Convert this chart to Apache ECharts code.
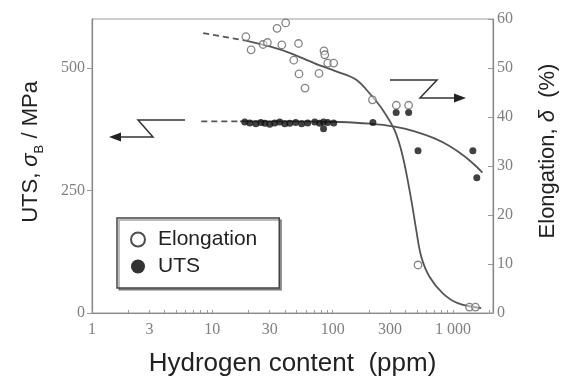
<!DOCTYPE html>
<html>
<head>
<meta charset="utf-8">
<script src="https://cdn.jsdelivr.net/npm/echarts@6/dist/echarts.min.js"></script>
<style>
  html, body { margin: 0; padding: 0; background: #fff; }
  #chart { width: 567px; height: 378px; }
</style>
</head>
<body>
<div id="chart"></div>
<script>
// Hydrogen content axis (ppm, logarithmic)
const ppmLabelValues = [1, 3, 10, 30, 100, 300, 1000];
const ppmLabelTexts = ['1', '3', '10', '30', '100', '300', '1 000'];
const ppmMinorTicks = [1, 2, 3, 4, 5, 6, 7, 8, 9, 10, 20, 30, 40, 50, 60, 70, 80, 90,
  100, 200, 300, 400, 500, 600, 700, 800, 900, 1000, 2000];

// Left axis (UTS, MPa) and right axis (elongation, %)
const utsTickValues = [0, 250, 500];
const elongTickValues = [0, 10, 20, 30, 40, 50, 60];

// Measured elongation (open circles)
const elongPpm = [19, 21, 26.4, 28.7, 34.5, 40.7, 37.8, 52, 47.5, 52.5, 58.9, 77, 84.7, 86, 91, 102,
  214, 338, 428, 512, 1371, 1537];
const elongPct = [56.4, 53.7, 54.8, 55.2, 58.1, 59.2, 54.7, 55.0, 51.6, 48.8, 45.9, 48.9, 53.5, 52.7, 51.0, 51.0,
  43.5, 42.4, 42.4, 9.8, 1.2, 1.2];

// Measured UTS (filled circles)
const utsPpm = [18.6, 20.5, 23, 25.3, 27.3, 30, 33, 36.3, 40, 44, 49.3, 55.3, 62, 71, 78, 84, 84, 91, 102,
  216, 337, 428, 512, 1462, 1577];
const utsMpa = [390, 388, 386, 389, 387, 385, 388, 390, 386, 387, 389, 386, 388, 390, 387, 376, 390, 389, 388,
  389, 409, 409, 331, 331, 276];

// Trend curve for elongation: dashed extrapolation, then solid
const elongTrendDashPpm = [8.4, 19];
const elongTrendDashPct = [57.1, 55.6];
const elongTrendPpm = [19, 30, 45, 70, 107, 157, 203, 260, 327, 383, 450, 495, 545, 638, 823, 1096, 1714];
const elongTrendPct = [55.6, 54.4, 53.0, 51.0, 49.3, 47.6, 44.8, 41.5, 37.3, 31.9, 23.1, 16.9, 11.5, 7.4, 4.0, 2.0, 1.0];

// Trend curve for UTS: dashed extrapolation, then solid
const utsTrendDashPpm = [8.1, 17];
const utsTrendDashMpa = [391, 391];
const utsTrendPpm = [17, 53, 114, 203, 327, 479, 702, 935, 1245, 1507, 1757];
const utsTrendMpa = [391, 391, 389.8, 386.4, 380.3, 370.8, 356.3, 340.7, 319.9, 302.6, 286.6];

const pairs = (xs, ys) => xs.map((x, i) => [x, ys[i]]);

const serifTick = { fontFamily: 'Liberation Serif', fontSize: 16, color: '#808080' };
const titleFont = 'Liberation Sans';

const chart = echarts.init(document.getElementById('chart'), null, { renderer: 'canvas' });

chart.setOption({
  backgroundColor: '#fff',
  animation: false,
  grid: {
    left: 92, right: 74, top: 19, bottom: 65,
    outerBoundsMode: 'none',
    containLabel: false,
    show: true, borderColor: '#9a9a9a', borderWidth: 1, backgroundColor: 'transparent'
  },
  xAxis: {
    type: 'log',
    logBase: 10,
    min: 1,
    max: 2150,
    name: 'Hydrogen content  (ppm)',
    nameLocation: 'middle',
    nameGap: 38,
    nameTextStyle: { fontFamily: titleFont, fontSize: 26, color: '#222' },
    axisLine: { show: true, lineStyle: { color: '#888', width: 1.2 } },
    axisTick: { show: true, inside: true, length: 3, customValues: ppmMinorTicks, lineStyle: { color: '#999' } },
    axisLabel: {
      ...serifTick,
      margin: 9,
      customValues: ppmLabelValues,
      formatter: (v) => {
        const i = ppmLabelValues.findIndex(p => Math.abs(p - v) / p < 1e-6);
        return i >= 0 ? ppmLabelTexts[i] : '';
      }
    },
    splitLine: { show: false },
    minorTick: { show: false },
    minorSplitLine: { show: false }
  },
  yAxis: [
    {
      type: 'value',
      min: 0,
      max: 600,
      position: 'left',
      name: '{t|UTS, }{i|σ}{s|B}{t| / MPa}',
      nameLocation: 'middle',
      nameRotate: 90,
      nameGap: 50,
      nameTextStyle: {
        padding: [0, 0, 0, 28],
        rich: {
          t: { fontFamily: titleFont, fontSize: 22, color: '#222' },
          i: { fontFamily: titleFont, fontSize: 22, fontStyle: 'italic', color: '#222' },
          s: { fontFamily: titleFont, fontSize: 13, color: '#222', verticalAlign: 'bottom', padding: [0, 0, -4, 0] }
        }
      },
      axisLine: { show: true, lineStyle: { color: '#888', width: 1.2 } },
      axisTick: { show: true, inside: false, length: 5, customValues: utsTickValues, lineStyle: { color: '#999' } },
      axisLabel: { ...serifTick, margin: 7, customValues: utsTickValues },
      splitLine: { show: false }
    },
    {
      type: 'value',
      min: 0,
      max: 60,
      interval: 10,
      position: 'right',
      name: 'Elongation, {i|δ}  (%)',
      nameLocation: 'middle',
      nameRotate: 90,
      nameGap: 44,
      nameTextStyle: {
        fontFamily: titleFont, fontSize: 22, color: '#222',
        padding: [0, 0, 0, 30],
        rich: {
          i: { fontFamily: titleFont, fontSize: 22, fontStyle: 'italic', color: '#222' }
        }
      },
      axisLine: { show: true, lineStyle: { color: '#888', width: 1.2 } },
      axisTick: { show: true, inside: true, length: 5, lineStyle: { color: '#999' } },
      axisLabel: { ...serifTick, margin: 4, customValues: elongTickValues },
      splitLine: { show: false }
    }
  ],
  legend: {
    orient: 'vertical',
    left: 117,
    top: 218,
    padding: [11, 22, 11, 13],
    itemGap: 6,
    itemWidth: 14,
    itemHeight: 14,
    backgroundColor: '#fff',
    borderColor: '#444',
    borderWidth: 1.5,
    borderRadius: 0,
    shadowColor: 'rgba(0,0,0,0.35)',
    shadowOffsetX: 2,
    shadowOffsetY: 2,
    shadowBlur: 0,
    textStyle: { fontFamily: titleFont, fontSize: 21, color: '#222', padding: [0, 0, 0, 8] },
    data: [
      { name: 'Elongation', icon: 'circle', itemStyle: { color: '#fff', borderColor: '#222', borderWidth: 2 } },
      { name: 'UTS', icon: 'circle', itemStyle: { color: '#000', borderWidth: 0 } }
    ]
  },
  graphic: [
    // arrow pointing to the UTS axis
    { type: 'polyline', silent: true, shape: { points: [[185, 120], [138, 120], [153, 137], [118, 137]] },
      style: { stroke: '#333', lineWidth: 1.5, fill: null } },
    { type: 'polygon', silent: true, shape: { points: [[109, 137], [121, 132.5], [121, 141.5]] },
      style: { fill: '#222' } },
    // arrow pointing to the elongation axis
    { type: 'polyline', silent: true, shape: { points: [[390, 80], [437, 80], [420, 98], [456, 98]] },
      style: { stroke: '#333', lineWidth: 1.5, fill: null } },
    { type: 'polygon', silent: true, shape: { points: [[466, 98], [454, 93.5], [454, 102.5]] },
      style: { fill: '#222' } }
  ],
  series: [
    {
      name: 'UTS trend',
      type: 'line',
      yAxisIndex: 0,
      data: pairs(utsTrendPpm, utsTrendMpa),
      symbol: 'none',
      smooth: 0.3,
      lineStyle: { color: '#555', width: 1.8 },
      z: 2
    },
    {
      name: 'UTS trend (extrapolated)',
      type: 'line',
      yAxisIndex: 0,
      data: pairs(utsTrendDashPpm, utsTrendDashMpa),
      symbol: 'none',
      lineStyle: { color: '#555', width: 1.8, type: [6, 4] },
      z: 2
    },
    {
      name: 'Elongation trend',
      type: 'line',
      yAxisIndex: 1,
      data: pairs(elongTrendPpm, elongTrendPct),
      symbol: 'none',
      smooth: 0.35,
      lineStyle: { color: '#555', width: 1.8 },
      z: 2
    },
    {
      name: 'Elongation trend (extrapolated)',
      type: 'line',
      yAxisIndex: 1,
      data: pairs(elongTrendDashPpm, elongTrendDashPct),
      symbol: 'none',
      lineStyle: { color: '#555', width: 1.8, type: [6, 4] },
      z: 2
    },
    {
      name: 'UTS',
      type: 'scatter',
      yAxisIndex: 0,
      data: pairs(utsPpm, utsMpa),
      symbol: 'circle',
      symbolSize: 7,
      itemStyle: { color: '#111' },
      z: 4
    },
    {
      name: 'Elongation',
      type: 'scatter',
      yAxisIndex: 1,
      data: pairs(elongPpm, elongPct),
      symbol: 'circle',
      symbolSize: 7.5,
      itemStyle: { color: 'rgba(255,255,255,0.6)', borderColor: '#666', borderWidth: 1.3 },
      z: 5
    }
  ]
});
</script>
</body>
</html>
